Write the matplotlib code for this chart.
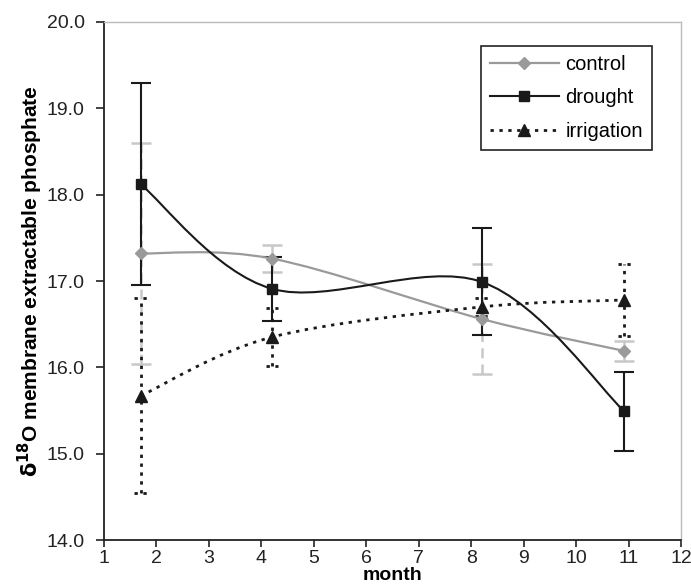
import matplotlib
matplotlib.use('Agg')
import matplotlib.pyplot as plt
import numpy as np
from matplotlib.path import Path
from matplotlib.patches import PathPatch
from matplotlib.lines import Line2D

plt.rcParams['font.family'] = ['Liberation Sans', 'DejaVu Sans']

# sampling month for each campaign
months = [1.7, 4.2, 8.2, 10.92]

control = [17.32, 17.26, 16.56, 16.19]
control_err = [1.28, 0.16, 0.64, 0.12]

drought = [18.12, 16.91, 16.99, 15.49]
drought_err = [1.17, 0.37, 0.62, 0.46]

irrigation = [15.67, 16.35, 16.70, 16.78]
irrigation_err = [1.13, 0.34, 0.10, 0.42]

xticks = list(range(1, 13))
yticks = [14.0, 15.0, 16.0, 17.0, 18.0, 19.0, 20.0]


def smooth_path(x, y):
    # excel-like smoothed line: cubic bezier segments through the points
    pts = np.column_stack([x, y]).astype(float)
    n = len(pts)
    verts = [pts[0]]
    codes = [Path.MOVETO]
    for i in range(n - 1):
        p0 = pts[i - 1] if i > 0 else pts[i]
        p1 = pts[i]
        p2 = pts[i + 1]
        p3 = pts[i + 2] if i + 2 < n else pts[i + 1]
        c1 = p1 + (p2 - p0) / 6.0
        c2 = p2 - (p3 - p1) / 6.0
        verts += [c1, c2, p2]
        codes += [Path.CURVE4] * 3
    return Path(verts, codes)


fig = plt.figure(figsize=(6.91, 5.88), dpi=100)
ax = fig.add_axes([0.1505, 0.0816, 0.835, 0.881])

gray = '#9a9a9a'
black = '#1a1a1a'
dots = (0, (1.2, 2))

# error bars
eb = ax.errorbar(months, control, yerr=control_err, fmt='none', ecolor='#c8c8c8',
                 elinewidth=1.8, capsize=7, capthick=1.8, zorder=2)
eb[2][0].set_linestyle((0, (4, 2.5)))
ax.errorbar(months, drought, yerr=drought_err, fmt='none', ecolor=black,
            elinewidth=1.5, capsize=7, capthick=1.5, zorder=3)
eb = ax.errorbar(months, irrigation, yerr=irrigation_err, fmt='none', ecolor=black,
                 elinewidth=2, capsize=0, zorder=4)
eb[2][0].set_linestyle(dots)
# dotted caps for irrigation
mx = np.array(months)
lo = np.array(irrigation) - np.array(irrigation_err)
hi = np.array(irrigation) + np.array(irrigation_err)
for yy in (lo, hi):
    ax.hlines(yy, mx - 0.12, mx + 0.12, colors=black, lw=2, linestyles=[dots], zorder=4)

# smoothed lines
ax.add_patch(PathPatch(smooth_path(months, control), fill=False, edgecolor=gray,
                       lw=1.6, zorder=5))
ax.add_patch(PathPatch(smooth_path(months, drought), fill=False, edgecolor=black,
                       lw=1.5, zorder=6))
ax.add_patch(PathPatch(smooth_path(months, irrigation), fill=False, edgecolor=black,
                       lw=2, linestyle=dots, zorder=7))

# markers
ax.plot(months, control, linestyle='none', marker='D', ms=6.5, color=gray, zorder=8)
ax.plot(months, drought, linestyle='none', marker='s', ms=7.5, color=black, zorder=9)
ax.plot(months, irrigation, linestyle='none', marker='^', ms=9, color=black, zorder=10)

handles = [
    Line2D([], [], color=gray, lw=1.6, marker='D', ms=6.5),
    Line2D([], [], color=black, lw=1.5, marker='s', ms=7.5),
    Line2D([], [], color=black, lw=2, linestyle=dots, marker='^', ms=9),
]
leg = ax.legend(handles, ['control', 'drought', 'irrigation'], loc='upper right',
                bbox_to_anchor=(0.95, 0.954), borderaxespad=0, fontsize=14.5,
                handlelength=3.4, frameon=True, fancybox=False, edgecolor='#222222',
                framealpha=1, borderpad=0.45, labelspacing=0.72, handletextpad=0.35)
leg.get_frame().set_linewidth(1.2)

ax.set_xlim(1, 12)
ax.set_ylim(14, 20)
ax.set_xticks(xticks)
ax.set_yticks(yticks)
ax.set_yticklabels(['%.1f' % v for v in yticks])
ax.tick_params(labelsize=14, direction='out', width=1.2, colors='#222222')
ax.tick_params(axis='y', length=6, pad=8)
ax.tick_params(axis='x', length=5, pad=2)

for s in ['left', 'bottom']:
    ax.spines[s].set_color('#222222')
    ax.spines[s].set_linewidth(1.3)
for s in ['top', 'right']:
    ax.spines[s].set_color('#bbbbbb')
    ax.spines[s].set_linewidth(1.0)

ax.set_xlabel('month', fontsize=14, fontweight='bold', labelpad=0)
ax.set_ylabel(r'$\mathbf{\delta^{18}}$O membrane extractable phosphate', fontsize=15,
              fontweight='bold', labelpad=1)

fig.savefig('out.png', dpi=100)
